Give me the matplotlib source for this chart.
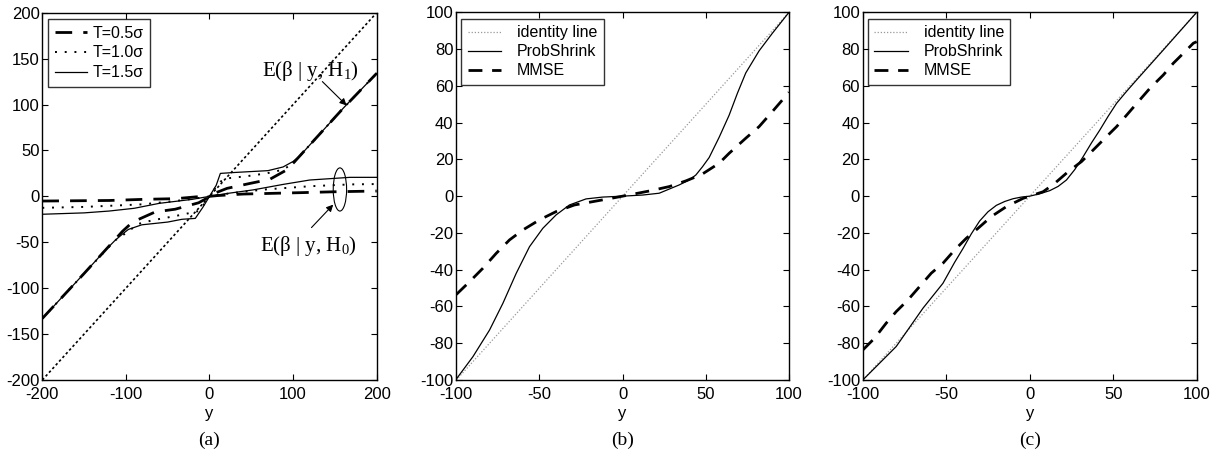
import matplotlib
matplotlib.use("Agg")
import matplotlib.pyplot as plt
from matplotlib.patches import Ellipse
import numpy as np

plt.rcParams['font.family'] = ['Liberation Sans', 'DejaVu Sans']
plt.rcParams['axes.unicode_minus'] = False
plt.rcParams['mathtext.fontset'] = 'custom'
plt.rcParams['mathtext.rm'] = 'Liberation Serif'
plt.rcParams['mathtext.it'] = 'Liberation Serif:italic'

# ---------------- Panel (a) data ----------------
a_identity = [-200, 200]

# E(beta | y, H1)
a_h1_t15_y = [-200, -150, -125, -113, -104, -97, -81, -50, -33, -17, -8, 0, 8, 13, 30, 50, 70, 88, 100, 108, 116, 136, 160, 200]
a_h1_t15_v = [-133, -84, -59, -48, -41, -36, -31, -28, -25, -24, -12, 0, 12, 25, 26, 27, 28, 32, 38, 44, 52, 72, 96, 134]
a_h1_t10_y = [-200, -150, -113, -100, -85, -68, -50, -33, -13, -6, 0, 6, 13, 21, 45, 68, 88, 100, 108, 116, 136, 160, 200]
a_h1_t10_v = [-133, -84, -48, -40, -30, -26, -23, -20, -16, -8, 0, 8, 16, 19.6, 22, 25, 29, 36, 44, 52, 72, 96, 134]
a_h1_t05_y = [-200, -150, -113, -104, -92, -65, -41, -13, -5, 0, 5, 21, 48, 72, 92, 100, 108, 116, 136, 160, 200]
a_h1_t05_v = [-133, -84, -47, -38, -28, -17, -14, -7, -3, 0, 3, 8.7, 14, 18.5, 28.6, 36, 44, 52, 72, 96, 134]

# E(beta | y, H0)
a_h0_t15_y = [-200, -150, -120, -90, -60, -21, 0, 20, 52, 88, 120, 168, 200]
a_h0_t15_v = [-19.5, -18, -16, -13, -7.6, -3.3, 0, 3, 7, 13, 17.8, 20.7, 20.7]
a_h0_t10_y = [-200, -150, -80, -40, -10, 0, 10, 40, 68, 120, 168, 200]
a_h0_t10_v = [-12.5, -11.5, -8.7, -5, -1.5, 0, 1.5, 5, 7.6, 11, 13, 13.4]
a_h0_t05_y = [-200, -120, -80, -40, -9, 0, 9, 40, 108, 150, 200]
a_h0_t05_v = [-5.1, -4.5, -3.3, -2.5, 0, 0, 0.8, 2.5, 4, 5, 5.8]

a_legend = ["T=0.5\u03c3", "T=1.0\u03c3", "T=1.5\u03c3"]
a_ticks_x = [-200, -100, 0, 100, 200]
a_ticks_y = [-200, -150, -100, -50, 0, 50, 100, 150, 200]

# ---------------- Panel (b) data ----------------
b_identity = [-100, 100]
b_ps_y = [-100, -90, -80, -72, -64, -56, -48, -40, -32, -22, -12, 0, 12, 22, 34, 40, 44, 48, 52, 58, 64, 69, 74, 82, 90, 100]
b_ps_v = [-99.5, -87.3, -72.8, -58.3, -42, -27.5, -17.5, -10.2, -4.8, -1.5, -0.5, 0, 0.6, 1.6, 6.1, 8.8, 11.5, 16, 21, 32, 44, 56, 67, 79, 88.6, 100]
b_mm_y = [-100, -92, -84, -76, -68, -60, -50, -40, -29, -18, -7, 0, 4, 16, 28, 38, 44, 47, 58, 64, 74, 82, 90, 100]
b_mm_v = [-53.5, -46.5, -39.2, -31.1, -23.8, -18.4, -12.9, -8.4, -4.8, -3, -1.2, 0, 0.7, 2.8, 5.2, 8.3, 10.5, 11.5, 17.9, 23.3, 31.5, 37.8, 46, 56.5]

# ---------------- Panel (c) data ----------------
c_identity = [-100, 100]
c_ps_y = [-100, -80, -64, -52, -45, -40, -35, -30, -25, -20, -15, -10, -5, 0, 6, 12, 17, 22, 27, 32, 37, 42, 47, 52, 58, 64, 80, 100]
c_ps_v = [-100, -81.8, -61, -47.4, -36, -28.5, -20.5, -13.5, -8.5, -5, -2.9, -1.4, -0.5, 0, 1.3, 3, 5.3, 8.8, 14.5, 21.5, 29, 36, 43.5, 50.5, 57, 63.2, 79.5, 100]
c_mm_y = [-100, -93, -86, -80, -73, -66, -59, -52, -45, -38, -31, -23, -14, -4, 0, 8, 15, 23, 31, 38, 45, 52, 59, 65, 72, 80, 86, 92, 98, 100]
c_mm_v = [-83.7, -77.3, -69.1, -62.8, -56.5, -49.2, -41.9, -36.5, -29.3, -22.9, -17.5, -11.1, -5.7, -1.2, 0, 2.4, 7, 13.3, 18.8, 25.1, 31.5, 37.8, 45.1, 51.4, 58.7, 65.9, 72.3, 77.7, 83.2, 84]

bc_legend = ["identity line", "ProbShrink", "MMSE"]
bc_ticks_x = [-100, -50, 0, 50, 100]
bc_ticks_y = [-100, -80, -60, -40, -20, 0, 20, 40, 60, 80, 100]

fig = plt.figure(figsize=(12.24, 4.51), dpi=100)
H = 451.0
W = 1224.0
def rect(l, r, t, b):
    return [l / W, (H - b) / H, (r - l) / W, (b - t) / H]

axa = fig.add_axes(rect(42.3, 376.7, 12.7, 380))
axb = fig.add_axes(rect(456.3, 789, 12.3, 380))
axc = fig.add_axes(rect(862.8, 1196.7, 12.3, 380))

def style(ax, xt, yt):
    ax.set_xticks(xt)
    ax.set_yticks(yt)
    ax.tick_params(direction='in', top=True, right=True, length=4, width=0.8,
                   labelsize=12, colors='black')
    ax.tick_params(axis='x', pad=5)
    ax.tick_params(axis='y', pad=2)
    for s in ax.spines.values():
        s.set_linewidth(1.0)
        s.set_color('black')
    ax.set_xlabel('y', fontsize=12, labelpad=3)

serif = ['Liberation Serif', 'DejaVu Serif']

# Panel (a)
dash_style = (0, (6, 4))
axa.plot(a_identity, a_identity, color='black', lw=1.2, ls=(0, (1.5, 1.5)))
l1, = axa.plot(a_h1_t05_y, a_h1_t05_v, color='black', lw=2.0, ls=dash_style)
l2, = axa.plot(a_h1_t10_y, a_h1_t10_v, color='black', lw=1.4, ls=(0, (1, 4)))
l3, = axa.plot(a_h1_t15_y, a_h1_t15_v, color='black', lw=0.9, ls='-')
axa.plot(a_h0_t05_y, a_h0_t05_v, color='black', lw=2.0, ls=dash_style)
axa.plot(a_h0_t10_y, a_h0_t10_v, color='black', lw=1.4, ls=(0, (1, 4)))
axa.plot(a_h0_t15_y, a_h0_t15_v, color='black', lw=0.9, ls='-')
axa.set_xlim(-200, 200)
axa.set_ylim(-200, 200)
style(axa, a_ticks_x, a_ticks_y)
leg = axa.legend([l1, l2, l3], a_legend, loc='upper left', fontsize=11.5,
                 frameon=True, fancybox=False, edgecolor='black', handlelength=2.0,
                 borderpad=0.4, labelspacing=0.3, handletextpad=0.4,
                 bbox_to_anchor=(0.018, 0.982), borderaxespad=0)
leg.get_frame().set_linewidth(1.0)

axa.text(121, 137, 'E(\u03b2 | y, H$_\\mathrm{1}$)', fontsize=15, family=serif,
         ha='center', va='center')
axa.text(118, -54, 'E(\u03b2 | y, H$_\\mathrm{0}$)', fontsize=15, family=serif,
         ha='center', va='center')
axa.annotate('', xy=(164, 99), xytext=(135, 125),
             arrowprops=dict(arrowstyle='-|>', color='black', lw=0.8,
                             shrinkA=0, shrinkB=0, mutation_scale=10))
axa.annotate('', xy=(148, -9), xytext=(122, -34),
             arrowprops=dict(arrowstyle='-|>', color='black', lw=0.8,
                             shrinkA=0, shrinkB=0, mutation_scale=10))
axa.add_patch(Ellipse((156, 7.5), 16, 47, fill=False, edgecolor='black', lw=0.8))
axa.text(0.5, -0.165, '(a)', transform=axa.transAxes, ha='center', va='center',
         fontsize=14, family=serif)

# Panels (b) and (c)
def panel(ax, ident, psy, psv, mmy, mmv, label):
    li, = ax.plot(ident, ident, color='#999999', lw=0.9, ls=(0, (1, 1.5)))
    lp, = ax.plot(psy, psv, color='black', lw=0.9, ls='-')
    lm, = ax.plot(mmy, mmv, color='black', lw=2.0, ls=(0, (5, 3.5)))
    ax.set_xlim(-100, 100)
    ax.set_ylim(-100, 100)
    style(ax, bc_ticks_x, bc_ticks_y)
    lg = ax.legend([li, lp, lm], bc_legend, loc='upper left', fontsize=11.5,
                   frameon=True, fancybox=False, edgecolor='black', handlelength=2.1,
                   borderpad=0.4, labelspacing=0.25, handletextpad=1.0,
                   bbox_to_anchor=(0.015, 0.982), borderaxespad=0)
    lg.get_frame().set_linewidth(1.0)
    ax.text(0.5, -0.165, label, transform=ax.transAxes, ha='center', va='center',
            fontsize=14, family=serif)

panel(axb, b_identity, b_ps_y, b_ps_v, b_mm_y, b_mm_v, '(b)')
panel(axc, c_identity, c_ps_y, c_ps_v, c_mm_y, c_mm_v, '(c)')

fig.savefig('out.png', dpi=100)
